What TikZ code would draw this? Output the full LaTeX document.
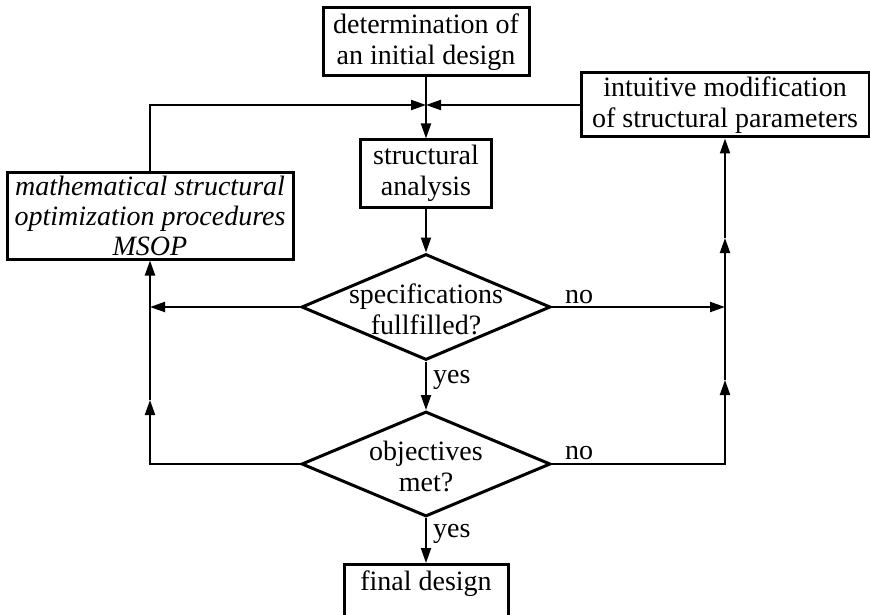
\documentclass[tikz,border=0pt]{standalone}
\usepackage{fontspec}
\setmainfont{Liberation Serif}
\usetikzlibrary{arrows.meta,shapes.geometric}
\begin{document}
\begin{tikzpicture}[x=1pt,y=-1pt,
  box/.style={draw,line width=3pt,inner sep=0pt,align=center},
  dia/.style={draw,diamond,line width=3pt,inner sep=0pt,minimum width=249pt,minimum height=106pt},
  conn/.style={line width=2pt},
  arr/.style={conn,-{Triangle[length=15pt,width=10pt]}},
  txt/.style={inner sep=0pt,align=center},
  font=\fontsize{28}{31}\selectfont]
\useasboundingbox (0,0) rectangle (870,615);
\clip (0,0) rectangle (870,615);
% boxes
\node[box,minimum width=206pt,minimum height=68pt] (init) at (426,42) {determination of\\an initial design};
\node[box,minimum width=288pt,minimum height=64pt] (modif) at (725,105) {intuitive modification\\of structural parameters};
\node[box,minimum width=131pt,minimum height=67pt] (anal) at (426,173.5) {structural\\analysis};
\node[box,minimum width=286pt,minimum height=87pt,font=\fontsize{28}{30}\selectfont\itshape] (msop) at (150,215.5) {mathematical structural\\optimization procedures\\MSOP};
\node[box,minimum width=164pt,minimum height=64pt,anchor=north] (final) at (426,563) {final design\\\phantom{x}};
% decisions
\node[dia] (d1) at (426,307) {};
\node[txt] (d1t) at (426,309) {specifications\\fullfilled?};
\node[dia,minimum height=105pt] (d2) at (426,464) {};
\node[txt] (d2t) at (426,466) {objectives\\met?};
% helper coordinates
\coordinate (J) at (426,105);
\coordinate (L1) at (150,307);
\coordinate (L2) at (150,464);
\coordinate (Lm) at (150,400);
\coordinate (R1) at (725,307);
\coordinate (R2) at (725,464);
\coordinate (Rm) at (725,380);
\coordinate (Rt) at (725,238);
% connectors
\draw[arr] (init.south) -- (anal.north);
\draw[arr] (msop.north) |- (J);
\draw[arr] (modif.west) -- (J);
\draw[arr] (anal.south) -- (d1.north);
\draw[arr] (d1.south) -- (d2.north);
\draw[arr] (d2.south) -- (final.north);
\draw[arr] (d1.east) -- (R1);
\draw[arr] (R1) -- (Rt);
\draw[arr] (Rt) -- (modif.south);
\draw[arr] (d2.east) -- (R2) -- (Rm);
\draw[conn] (Rm) -- (R1);
\draw[arr] (d1.west) -- (L1);
\draw[arr] (L1) -- (msop.south);
\draw[arr] (d2.west) -- (L2) -- (Lm);
\draw[conn] (Lm) -- (L1);
% labels
\node[txt,anchor=base west] (no1) at (565,303) {no};
\node[txt,anchor=base west] (no2) at (565,459) {no};
\node[txt,anchor=base west] (yes1) at (433,383) {yes};
\node[txt,anchor=base west] (yes2) at (433,537) {yes};
\end{tikzpicture}
\end{document}
